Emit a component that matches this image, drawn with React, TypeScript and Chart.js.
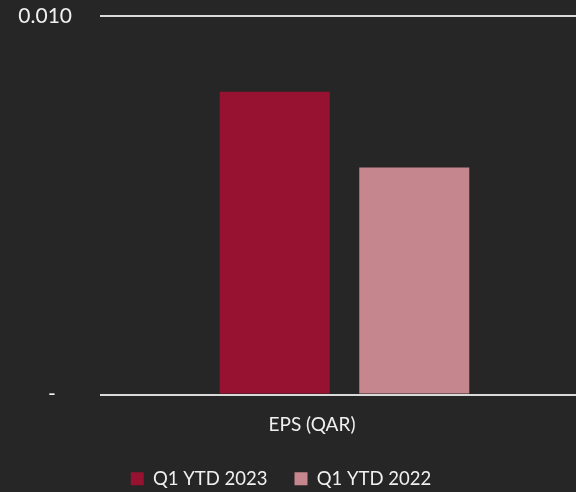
import React, { useEffect, useRef } from 'react';
import { Chart, registerables } from 'chart.js';

Chart.register(...registerables);

const categories = ['EPS (QAR)'];
const seriesNames = ['Q1 YTD 2023', 'Q1 YTD 2022'];
const eps2023 = [0.008];
const eps2022 = [0.006];
const yTickValues = [0, 0.01];
const seriesColors = ['#971230', '#C5868D'];

const FONT = 'Lato, "Open Sans", sans-serif';
const TEXT = '#f0f0f0';
const BG = '#262626';

// canvas is a bit larger than the visible 576x492 frame and shifted left,
// so the plot area runs off the right edge like in the reference
const CANVAS_W = 616;
const CANVAS_H = 498;
const SHIFT_X = 27;

export default function App() {
  const ref = useRef<HTMLCanvasElement | null>(null);

  useEffect(() => {
    if (!ref.current) return;
    const bgPlugin = {
      id: 'bg',
      beforeDraw(chart: any) {
        const c = chart.ctx;
        c.save();
        c.fillStyle = BG;
        c.fillRect(0, 0, chart.width, chart.height);
        c.restore();
      },
    };
    const chart = new Chart(ref.current, {
      type: 'bar',
      data: {
        labels: categories,
        datasets: [
          { label: seriesNames[0], data: eps2023, backgroundColor: seriesColors[0], borderWidth: 0 },
          { label: seriesNames[1], data: eps2022, backgroundColor: seriesColors[1], borderWidth: 0 },
        ],
      },
      options: {
        responsive: false,
        animation: false,
        layout: { padding: { top: 16, left: 0, right: 0, bottom: 0 } },
        plugins: {
          tooltip: { enabled: false },
          legend: {
            position: 'bottom',
            labels: {
              color: TEXT,
              font: { family: FONT, size: 18.5, lineHeight: 1.2 },
              boxWidth: 13,
              boxHeight: 13,
              padding: 27,
            },
          },
        },
        datasets: {
          bar: { categoryPercentage: 0.5706, barPercentage: 0.7885 },
        },
        scales: {
          x: {
            grid: { display: false, drawTicks: false },
            border: { display: false },
            ticks: { color: TEXT, font: { family: FONT, size: 19 }, labelOffset: -32.5, padding: 19 },
            afterFit(scale: any) { scale.height = 48; },
          },
          y: {
            min: 0,
            max: 0.01,
            grid: { color: '#d9d9d9', lineWidth: 2, drawTicks: false },
            border: { display: false },
            afterBuildTicks(scale: any) { scale.ticks = yTickValues.map((v) => ({ value: v })); },
            afterFit(scale: any) {
              scale.width = 127;
              scale.paddingTop = 0;
              scale.paddingBottom = 0;
            },
            ticks: {
              color: TEXT,
              font: { family: FONT, size: 21 },
              padding: 28,
              callback: (v: any) => (Number(v) === 0 ? '-\u00a0\u00a0\u00a0' : Number(v).toFixed(3)),
            },
          },
        },
      },
      plugins: [bgPlugin],
    });
    return () => chart.destroy();
  }, []);

  return (
    <div style={{ position: 'fixed', left: 0, top: 0, width: 576, height: 492, overflow: 'hidden', background: BG }}>
      <canvas
        ref={ref}
        width={CANVAS_W}
        height={CANVAS_H}
        style={{ display: 'block', position: 'absolute', left: -SHIFT_X, top: 0 }}
      />
    </div>
  );
}
